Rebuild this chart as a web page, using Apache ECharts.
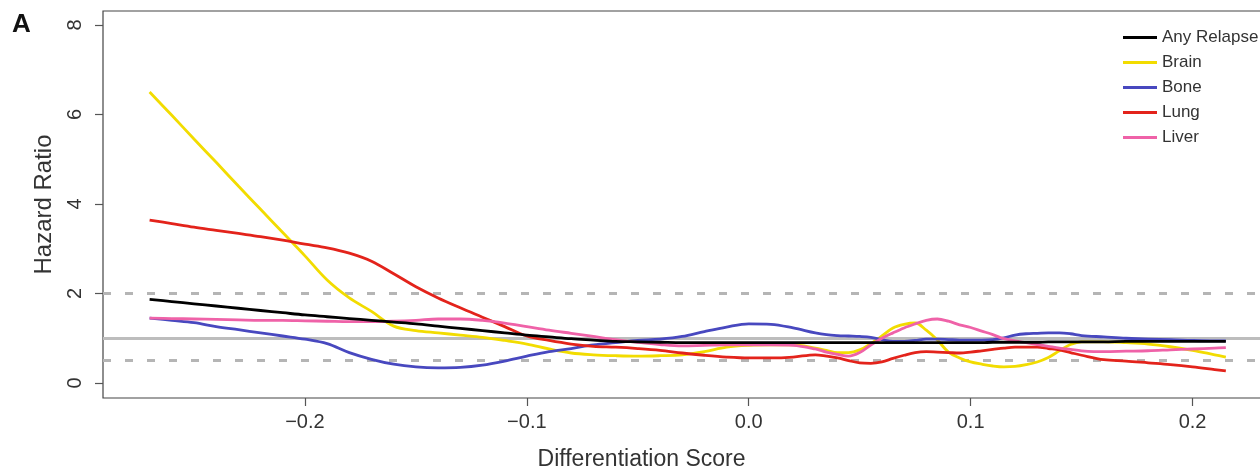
<!DOCTYPE html>
<html>
<head>
<meta charset="utf-8">
<title>Hazard Ratio vs Differentiation Score</title>
<script src="https://cdn.jsdelivr.net/npm/echarts@6/dist/echarts.min.js"></script>
<style>
	html, body { margin: 0; padding: 0; background: #fff; }
	#chart { width: 1260px; height: 470px; }
</style>
</head>
<body>
<div id="chart"></div>
<script>
// x positions (differentiation score)
var xScore = [
	-0.27, -0.26, -0.25, -0.24, -0.23, -0.22, -0.21, -0.20, -0.19, -0.18,
	-0.17, -0.16, -0.15, -0.14, -0.13, -0.12, -0.11, -0.10, -0.09, -0.08,
	-0.07, -0.06, -0.05, -0.04, -0.03, -0.02, -0.01, 0, 0.01, 0.02, 0.03,
	0.035, 0.04, 0.045, 0.05, 0.055, 0.06, 0.065, 0.07, 0.075, 0.08,
	0.085, 0.09, 0.095, 0.10, 0.105, 0.11, 0.115, 0.12, 0.125, 0.13,
	0.135, 0.14, 0.145, 0.15,
	0.16, 0.17, 0.18, 0.19, 0.20, 0.21, 0.215
];

// hazard ratio per site
var anyRelapse = [
	1.87, 1.82, 1.77, 1.72, 1.67, 1.62, 1.57, 1.52, 1.48, 1.44,
	1.40, 1.36, 1.32, 1.27, 1.22, 1.17, 1.12, 1.07, 1.03, 0.99,
	0.96, 0.93, 0.92, 0.91, 0.90, 0.90, 0.90, 0.90, 0.90, 0.90, 0.90,
	0.90, 0.90, 0.90, 0.90, 0.90, 0.90, 0.90, 0.90, 0.90, 0.90,
	0.90, 0.90, 0.90, 0.90, 0.90, 0.91, 0.91, 0.91, 0.91, 0.91,
	0.92, 0.92, 0.92, 0.92,
	0.92, 0.93, 0.93, 0.93, 0.93, 0.93, 0.93
];
var brain = [
	6.50, 5.98, 5.45, 4.93, 4.40, 3.88, 3.36, 2.84, 2.30, 1.90,
	1.60, 1.27, 1.17, 1.12, 1.07, 1.02, 0.95, 0.87, 0.76, 0.67,
	0.63, 0.61, 0.60, 0.61, 0.63, 0.70, 0.80, 0.84, 0.85, 0.85, 0.78,
	0.73, 0.68, 0.68, 0.74, 0.88, 1.05, 1.23, 1.31, 1.34, 1.18,
	0.96, 0.69, 0.56, 0.47, 0.42, 0.38, 0.36, 0.37, 0.41, 0.47,
	0.57, 0.72, 0.86, 0.92,
	0.92, 0.90, 0.87, 0.81, 0.73, 0.63, 0.58
];
var bone = [
	1.45, 1.40, 1.35, 1.26, 1.19, 1.12, 1.05, 0.98, 0.88, 0.68,
	0.53, 0.42, 0.36, 0.34, 0.35, 0.40, 0.49, 0.60, 0.70, 0.77,
	0.85, 0.90, 0.95, 0.98, 1.04, 1.15, 1.25, 1.32, 1.31, 1.23, 1.12,
	1.08, 1.06, 1.05, 1.04, 1.02, 0.97, 0.93, 0.93, 0.95, 0.98,
	0.98, 0.97, 0.96, 0.96, 0.96, 0.97, 1.01, 1.07, 1.10, 1.11,
	1.12, 1.12, 1.10, 1.06,
	1.03, 1.00, 0.98, 0.97, 0.95, 0.94, 0.94
];
var lung = [
	3.64, 3.56, 3.48, 3.41, 3.34, 3.27, 3.19, 3.10, 3.02, 2.90,
	2.72, 2.44, 2.15, 1.90, 1.68, 1.47, 1.26, 1.05, 0.95, 0.87,
	0.82, 0.80, 0.77, 0.73, 0.67, 0.62, 0.58, 0.56, 0.56, 0.58, 0.63,
	0.60, 0.56, 0.50, 0.45, 0.44, 0.47, 0.55, 0.62, 0.68, 0.70,
	0.69, 0.68, 0.67, 0.69, 0.72, 0.75, 0.78, 0.80, 0.80, 0.80,
	0.77, 0.74, 0.68, 0.62,
	0.52, 0.49, 0.45, 0.41, 0.36, 0.30, 0.27
];
var liver = [
	1.45, 1.44, 1.43, 1.42, 1.41, 1.40, 1.40, 1.39, 1.38, 1.37,
	1.37, 1.38, 1.40, 1.43, 1.43, 1.40, 1.34, 1.26, 1.18, 1.11,
	1.04, 0.97, 0.91, 0.86, 0.83, 0.84, 0.85, 0.85, 0.85, 0.84, 0.76,
	0.69, 0.64, 0.60, 0.68, 0.85, 1.00, 1.12, 1.23, 1.32, 1.40,
	1.43, 1.38, 1.30, 1.24, 1.16, 1.08, 0.99, 0.94, 0.90, 0.86,
	0.82, 0.78, 0.75, 0.72,
	0.70, 0.71, 0.72, 0.74, 0.76, 0.78, 0.79
];

var xTicks = [-0.2, -0.1, 0, 0.1, 0.2];
var yTicks = [0, 2, 4, 6, 8];
var refSolid = 1;
var refDashed = [2, 0.5];

var legendNames = ['Any Relapse', 'Brain', 'Bone', 'Lung', 'Liver'];

var fontName = '"Liberation Sans", Arial, sans-serif';

function toPairs(xs, ys) {
	var out = [];
	for (var i = 0; i < xs.length; i++) {
		out.push([xs[i], ys[i]]);
	}
	return out;
}

function makeLine(name, values, color) {
	return {
		name: name,
		type: 'line',
		data: toPairs(xScore, values),
		smooth: 0.35,
		symbol: 'none',
		z: 3,
		lineStyle: { color: color, width: 2.8 },
		itemStyle: { color: color },
		emphasis: { disabled: true },
		silent: true
	};
}

function fmtX(v) {
	if (Math.abs(v) < 1e-9) return '0.0';
	return (v < 0 ? '\u2212' : '') + Math.abs(v).toFixed(1);
}

// grey reference lines at HR = 1 (solid), 2 and 0.5 (dashed)
var refLines = [{ yAxis: refSolid, lineStyle: { type: 'solid', color: '#bdbdbd', width: 3 } }];
for (var i = 0; i < refDashed.length; i++) {
	refLines.push({ yAxis: refDashed[i], lineStyle: { type: [8, 14], color: '#b5b5b5', width: 3 } });
}

var brainSeries = makeLine('Brain', brain, '#f2dc00');
brainSeries.markLine = {
	silent: true,
	symbol: 'none',
	z: 1,
	label: { show: false },
	emphasis: { disabled: true },
	data: refLines
};

var series = [
	brainSeries,
	makeLine('Bone', bone, '#4848bf'),
	makeLine('Lung', lung, '#e3231b'),
	makeLine('Liver', liver, '#ef62a8'),
	makeLine('Any Relapse', anyRelapse, '#000000')
];

var chart = echarts.init(document.getElementById('chart'), null, { renderer: 'canvas' });

chart.setOption({
	animation: false,
	backgroundColor: '#ffffff',
	textStyle: { fontFamily: fontName },
	grid: {
		left: 103, top: 11, right: -8, bottom: 72,
		outerBoundsMode: 'none',
		containLabel: false,
		show: true, borderColor: '#444', borderWidth: 1.2
	},
	legend: {
		data: legendNames,
		orient: 'vertical',
		left: 1118,
		top: 24,
		icon: 'rect',
		itemWidth: 34,
		itemHeight: 3,
		itemGap: 8,
		selectedMode: false,
		textStyle: { fontSize: 17, color: '#333', fontFamily: fontName, lineHeight: 17 }
	},
	xAxis: {
		type: 'value',
		min: -0.291,
		max: 0.234,
		axisLine: { show: false, onZero: false },
		axisTick: { show: true, length: 8, customValues: xTicks, lineStyle: { color: '#555', width: 1.2 } },
		axisLabel: { customValues: xTicks, formatter: fmtX, fontSize: 20, color: '#333', margin: 14, fontFamily: fontName },
		splitLine: { show: false },
		name: 'Differentiation Score',
		nameLocation: 'middle',
		nameGap: 50,
		nameTextStyle: { fontSize: 23, color: '#333', fontFamily: fontName, padding: [0, 88, 0, 0] }
	},
	yAxis: {
		type: 'value',
		min: -0.335,
		max: 8.31,
		axisLine: { show: false, onZero: false },
		axisTick: { show: true, length: 8, customValues: yTicks, lineStyle: { color: '#555', width: 1.2 } },
		axisLabel: { customValues: yTicks, rotate: 90, fontSize: 20, color: '#333', margin: 18, fontFamily: fontName },
		splitLine: { show: false },
		name: 'Hazard Ratio',
		nameLocation: 'middle',
		nameGap: 47,
		nameTextStyle: { fontSize: 24, color: '#333', fontFamily: fontName }
	},
	graphic: [{
		type: 'text',
		left: 12,
		top: 12,
		style: { text: 'A', fontSize: 26, fontWeight: 'bold', fill: '#111', fontFamily: fontName }
	}],
	series: series
});
</script>
</body>
</html>
